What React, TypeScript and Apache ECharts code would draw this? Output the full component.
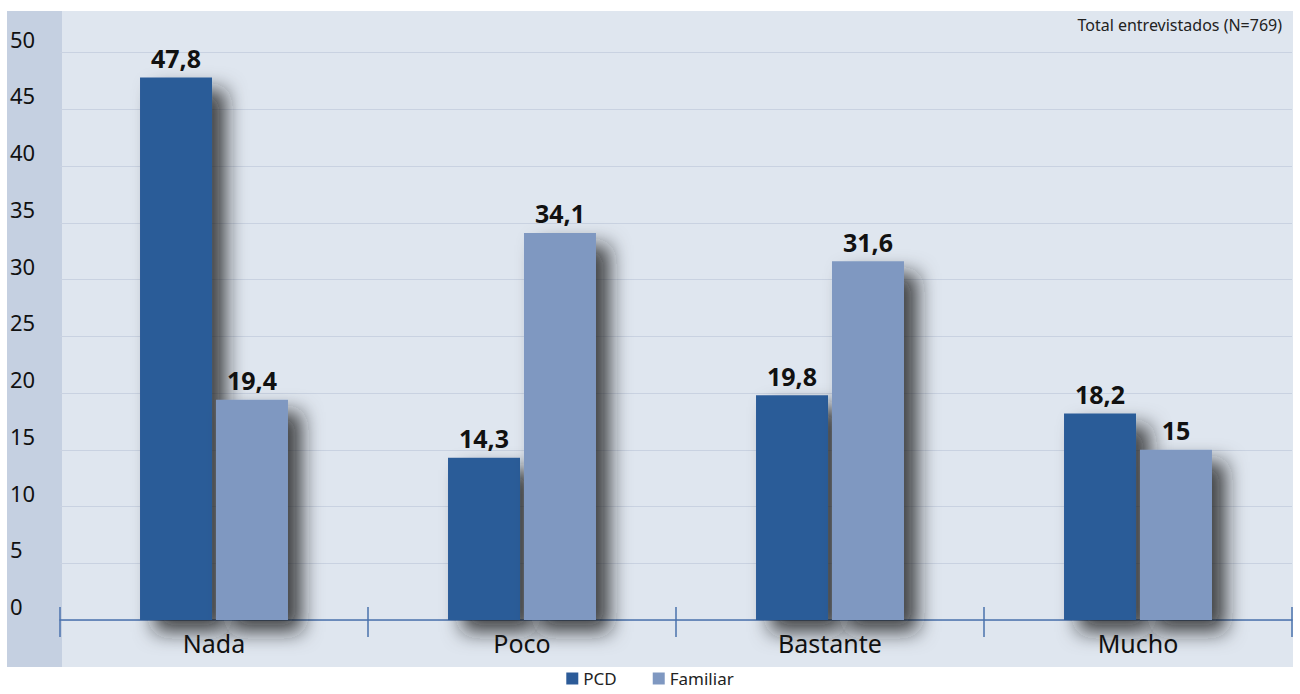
import React, { useEffect, useRef } from "react";
import * as echarts from "echarts";

const categories = ["Nada", "Poco", "Bastante", "Mucho"];
const pcdValues = [47.8, 14.3, 19.8, 18.2];
const familiarValues = [19.4, 34.1, 31.6, 15];
const seriesNames = ["PCD", "Familiar"];
const noteText = "Total entrevistados (N=769)";
const yTicks = { min: 0, max: 50, interval: 5 };

const FONT = "'Noto Sans', 'DejaVu Sans', sans-serif";
const fmt = (v: number) => String(v).replace(".", ",");

export default function App() {
  const ref = useRef<HTMLDivElement>(null);
  useEffect(() => {
    if (!ref.current) return;
    const chart = echarts.init(ref.current, null, { renderer: "svg" });
    const barStyle = (color: string) => ({
      color,
      shadowColor: "rgba(30,30,30,0.8)",
      shadowBlur: 20,
      shadowOffsetX: 14,
      shadowOffsetY: 12,
    });
    const label = {
      show: true,
      position: "top" as const,
      distance: 7,
      formatter: (p: any) => fmt(p.value),
      fontFamily: FONT,
      fontSize: 25,
      fontWeight: "bold" as const,
      color: "#111",
    };
    chart.setOption({
      animation: false,
      textStyle: { fontFamily: FONT },
      graphic: [
        { type: "rect", z: -10, silent: true, shape: { x: 7, y: 11, width: 1286, height: 656 }, style: { fill: "#dfe6ef" } },
        { type: "rect", z: -9, silent: true, shape: { x: 7, y: 11, width: 55, height: 656 }, style: { fill: "#c5d0e1" } },
        {
          type: "text",
          right: 18,
          top: 17,
          style: { text: noteText, fontFamily: FONT, fontSize: 16, fill: "#222" },
        },
      ],
      legend: {
        data: seriesNames,
        bottom: 2,
        left: "center",
        icon: "rect",
        itemWidth: 12,
        itemHeight: 12,
        itemGap: 36,
        textStyle: { fontFamily: FONT, fontSize: 17, color: "#222" },
      },
      grid: { left: 60, right: 8, top: 52.5, bottom: 74, containLabel: false },
      xAxis: [
        {
          type: "category",
          data: categories,
          position: "bottom",
          axisLine: { show: true, lineStyle: { color: "#4a72ad", width: 1.5 } },
          axisTick: { show: true, length: 17, lineStyle: { color: "#4a72ad", width: 1.5 } },
          axisLabel: { margin: 10, fontFamily: FONT, fontSize: 25, color: "#111" },
        },
        {
          type: "category",
          data: categories,
          position: "bottom",
          axisLine: { show: false },
          axisTick: { show: true, inside: true, length: 13, lineStyle: { color: "#4a72ad", width: 1.5 } },
          axisLabel: { show: false },
        },
      ],
      yAxis: {
        type: "value",
        min: yTicks.min,
        max: yTicks.max,
        interval: yTicks.interval,
        axisLine: { show: false },
        axisTick: { show: false },
        splitLine: { lineStyle: { color: "#c9d2e1", width: 1.2 } },
        axisLabel: {
          align: "left",
          verticalAlign: "bottom",
          margin: 50,
          padding: [0, 0, 3, 0],
          fontFamily: FONT,
          fontSize: 22,
          color: "#111",
        },
      },
      series: [
        {
          name: seriesNames[0],
          type: "bar",
          data: pcdValues,
          barWidth: 72,
          barGap: "5.5%",
          itemStyle: barStyle("#2c5b98"),
          label,
        },
        {
          name: seriesNames[1],
          type: "bar",
          data: familiarValues,
          barWidth: 72,
          barGap: "5.5%",
          itemStyle: barStyle("#7f98c1"),
          label,
        },
      ],
    });
    return () => chart.dispose();
  }, []);
  return (
    <div
      ref={ref}
      style={{ position: "absolute", left: 0, top: 0, width: 1300, height: 694, background: "#fff" }}
    />
  );
}
